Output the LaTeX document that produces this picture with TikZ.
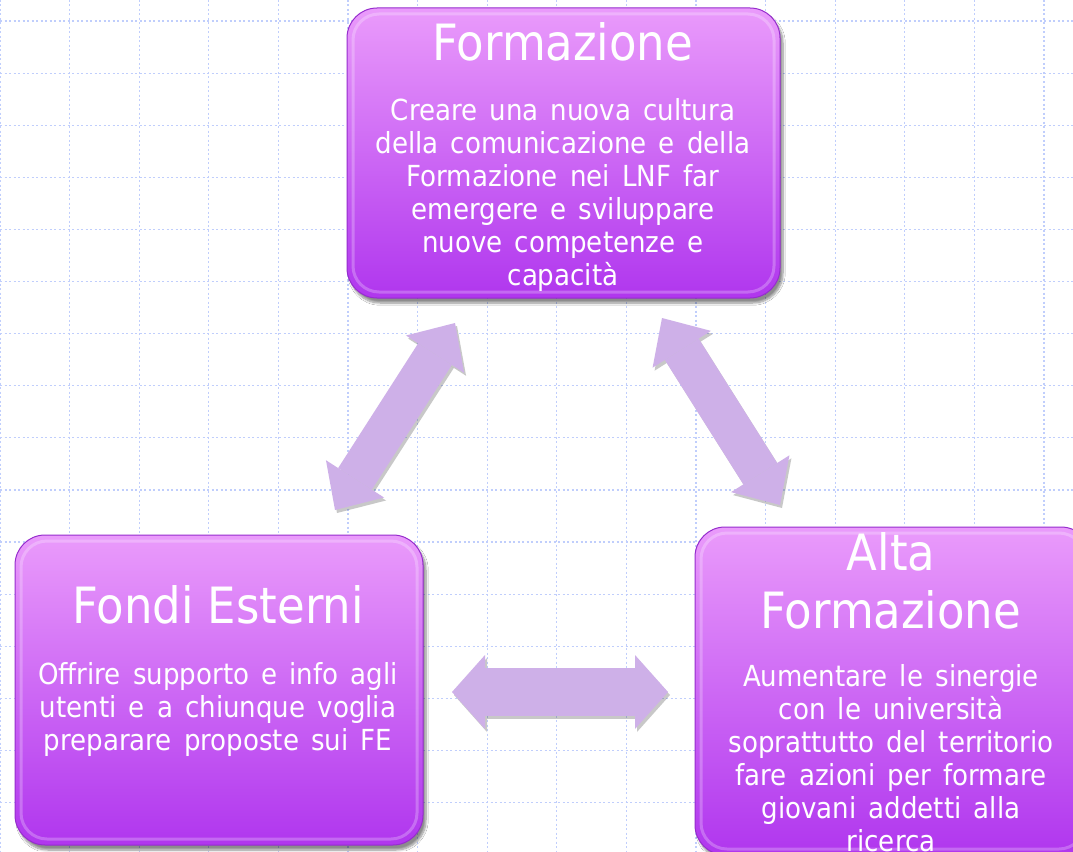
\documentclass[tikz,border=0pt]{standalone}
\usepackage{fontspec}
\setmainfont{DejaVu Sans Condensed}
\usetikzlibrary{arrows.meta,shadows.blur}
\definecolor{gridcol}{RGB}{192,206,252}
\definecolor{boxtop}{RGB}{234,155,251}
\definecolor{boxbot}{RGB}{176,54,238}
\definecolor{boxedge}{RGB}{150,45,205}
\definecolor{arrowfill}{RGB}{206,176,232}
\newcommand\cardfont{\fontsize{29}{33}\selectfont\spaceskip=.42em plus .1em\relax}
\tikzset{
	gridline/.style={draw=gridcol, line width=1.2pt, dash pattern=on 2pt off 2.5pt},
	card/.style={rectangle, rounded corners=30pt, draw=boxedge, line width=1pt, top color=boxtop, bottom color=boxbot,
		blur shadow={shadow xshift=3pt, shadow yshift=-5pt, shadow opacity=45, shadow blur steps=8}},
	cardrim/.style={rectangle, rounded corners=26pt, draw=white, draw opacity=.25, line width=3pt},
	cardtitle/.style={text=white, font=\fontsize{50}{58}\selectfont, align=center, anchor=base, inner sep=0pt},
	cardtext/.style={text=white, font=\cardfont, align=center, anchor=base, inner sep=0pt},
	bigarrow/.style n args={3}{line width=#1, {Triangle[width=#2,length=#3,line width=0pt]}-{Triangle[width=#2,length=#3,line width=0pt]}},
	arrowbody/.style={draw=arrowfill},
	arrowshade/.style={draw=black!70, opacity=.3, transform canvas={xshift=2pt,yshift=-3pt}}
}
\begin{document}
\begin{tikzpicture}[x=1pt,y=-1pt]
	\clip (0,0) rectangle (1073,851);
	\fill[white] (0,0) rectangle (1073,851);
	\foreach \i in {0,...,15}
		\draw[gridline] (69.6*\i,0) -- (69.6*\i,851);
	\foreach \j in {0,...,16}
		\draw[gridline] (0,21+52.1*\j) -- (1073,21+52.1*\j);

	\node[card, minimum width=433pt, minimum height=290pt] (form) at (563.5,153) {};
	\node[card, minimum width=408pt, minimum height=310pt] (fondi) at (219,690) {};
	\node[card, minimum width=396pt, minimum height=328pt] (alta) at (893,691) {};
	\node[cardrim, minimum width=421pt, minimum height=278pt] (formrim) at (form.center) {};
	\node[cardrim, minimum width=396pt, minimum height=298pt] (fondirim) at (fondi.center) {};
	\node[cardrim, minimum width=384pt, minimum height=316pt] (altarim) at (alta.center) {};

	\node[cardtitle] (formtitle) at (563,60) {Formazione};
	\node[cardtext] (formtext) at (563,285) {Creare una nuova cultura\\della comunicazione  e della\\Formazione nei LNF far\\emergere e sviluppare\\nuove competenze e\\capacità};
	\node[cardtitle] (fondititle) at (218,623) {Fondi Esterni};
	\node[cardtext] (fonditext) at (218,750) {Offrire supporto e info agli\\utenti e a chiunque voglia\\preparare proposte sui FE};
	\node[cardtitle] (altatitle) at (891,628) {Alta\\Formazione};
	\node[cardtext] (altatext) at (891,851) {Aumentare le sinergie\\con le università\\soprattutto del territorio\\fare azioni per formare\\giovani addetti alla\\ricerca};

	\coordinate (a1) at (335,510);
	\coordinate (a2) at (455,323);
	\coordinate (b1) at (662,318);
	\coordinate (b2) at (780,505);
	\coordinate (c1) at (452,692);
	\coordinate (c2) at (668,692);
	\draw[bigarrow={40pt}{69pt}{37pt}, arrowshade] (a1) -- (a2);
	\draw[bigarrow={40pt}{69pt}{37pt}, arrowshade] (b1) -- (b2);
	\draw[bigarrow={48pt}{74pt}{33pt}, arrowshade] (c1) -- (c2);
	\draw[bigarrow={40pt}{69pt}{37pt}, arrowbody] (a1) -- (a2);
	\draw[bigarrow={40pt}{69pt}{37pt}, arrowbody] (b1) -- (b2);
	\draw[bigarrow={48pt}{74pt}{33pt}, arrowbody] (c1) -- (c2);
\end{tikzpicture}
\end{document}
